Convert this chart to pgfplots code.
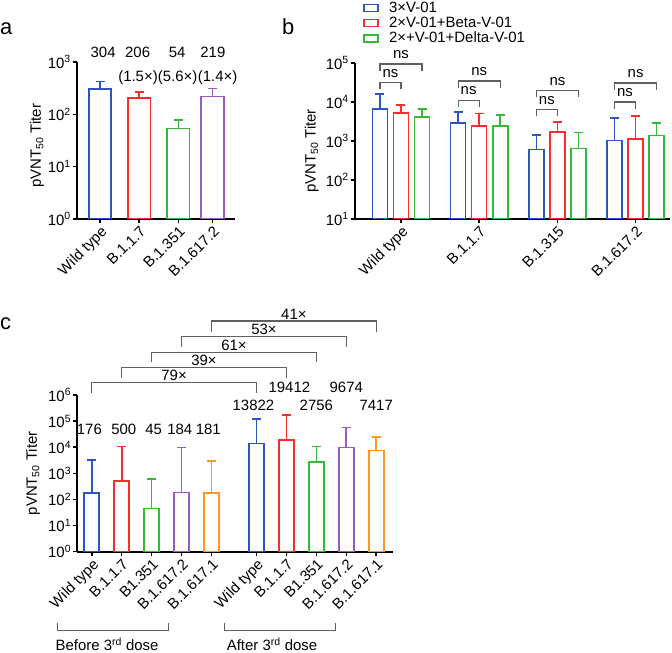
\documentclass[border=0pt]{standalone}
\usepackage{pgfplots}
\pgfplotsset{compat=1.18}
\usepackage{fontspec}
\setmainfont{Liberation Sans}
\definecolor{cB}{RGB}{45,85,190}
\definecolor{cR}{RGB}{250,45,45}
\definecolor{cG}{RGB}{55,185,55}
\definecolor{cP}{RGB}{155,90,190}
\definecolor{cO}{RGB}{255,150,35}
\definecolor{brkc}{RGB}{95,95,95}
\newcommand{\fs}{\fontsize{15}{17}\selectfont}
\newcommand{\sps}[1]{\textsuperscript{#1}}
\newcommand{\bk}[4]{\draw[brkc, line width=1.1bp] (axis cs:#1,#3) |- (axis cs:#2,#4) -- (axis cs:#2,#3);}
\pgfplotsset{
  every axis/.append style={
    scale only axis,
    axis x line*=bottom, axis y line*=left,
    axis line style={line width=1.8bp},
    tick align=outside, tick pos=left,
    major tick length=4.5bp,
    every tick/.style={black, line width=1.5bp},
    tick label style={font=\fs},
    label style={font=\fs},
    xticklabel style={rotate=45, anchor=north east, inner sep=1bp},
    yticklabel style={inner sep=1.5bp},
  },
  bx/.style={ybar, bar shift=0, draw=#1, fill=white, line width=1.6bp,
    error bars/y dir=plus, error bars/y explicit,
    error bars/error bar style={draw=#1, line width=1.6bp},
    error bars/error mark options={rotate=90, mark size=4.5bp, line width=1.6bp, draw=#1}},
}
\begin{document}
\fs
\begin{tikzpicture}
\useasboundingbox (0bp,0bp) rectangle (672bp,653bp);
\node[font=\fontsize{22}{24}\selectfont, anchor=base west, inner sep=0pt] at (0bp,618bp) {a};
\node[font=\fontsize{22}{24}\selectfont, anchor=base west, inner sep=0pt] at (282bp,618bp) {b};
\node[font=\fontsize{22}{24}\selectfont, anchor=base west, inner sep=0pt] at (0bp,323bp) {c};

% ---------------- panel a
\begin{axis}[anchor=south west, at={(77bp,434bp)}, width=158bp, height=157bp,
  ymode=log, log origin=infty, yminorticks=false, clip mode=individual,
  xmin=-0.587, xmax=3.444, ymin=1, ymax=1000,
  ytick={1,10,100,1000}, yticklabels={10\sps{0},10\sps{1},10\sps{2},10\sps{3}},
  xtick={0,1,2,2.87}, xticklabels={Wild type,B.1.1.7,B.1.351,B.1.617.2},
  ylabel={pVNT\textsubscript{50} Titer},
  ylabel style={at={(axis description cs:-0.253,0.467)}, anchor=center}]
\addplot[bx=cB, bar width=0.574] coordinates {(0,304) +- (0,118)};
\addplot[bx=cR, bar width=0.574] coordinates {(1,206) +- (0,58)};
\addplot[bx=cG, bar width=0.574] coordinates {(2,54) +- (0,24)};
\addplot[bx=cP, bar width=0.574] coordinates {(2.87,219) +- (0,91)};
\node at (axis cs:0.08,1513) {304};
\node at (axis cs:0.96,1513) {206};
\node at (axis cs:1.97,1513) {54};
\node at (axis cs:2.88,1513) {219};
\node at (axis cs:0.97,512) {(1.5×)};
\node at (axis cs:1.98,512) {(5.6×)};
\node at (axis cs:3.0,512) {(1.4×)};
\end{axis}

% ---------------- panel b
\begin{axis}[anchor=south west, at={(355bp,434bp)}, width=315bp, height=156bp,
  ymode=log, log origin=infty, yminorticks=false, clip mode=individual,
  xmin=-0.588, xmax=3.44, ymin=10, ymax=100000,
  ytick={10,100,1000,10000,100000},
  yticklabels={10\sps{1},10\sps{2},10\sps{3},10\sps{4},10\sps{5}},
  xtick={0,1,2,3}, xticklabels={Wild type,B.1.1.7,B.1.315,B.1.617.2},
  ylabel={pVNT\textsubscript{50} Titer},
  ylabel style={at={(axis description cs:-0.137,0.436)}, anchor=center},
  legend style={at={(0.025,1.404)}, anchor=north west, draw=none, fill=none,
    font=\fs, row sep=-0.5bp, inner sep=0pt, nodes={inner sep=1.5bp}},
  legend cell align=left,
  legend image code/.code={\draw[#1, line width=1.6bp, fill=white] (0bp,-3.5bp) rectangle (14bp,3.5bp); \path (23bp,0bp);}]
\addplot[bx=cB, bar width=0.192] coordinates {
 (-0.269,6700) +- (0,9300) (0.731,2870) +- (0,2750) (1.731,605) +- (0,835) (2.731,1030) +- (0,2910)};
\addlegendentry{3×V-01}
\addplot[bx=cR, bar width=0.192] coordinates {
 (0,5300) +- (0,3200) (1,2400) +- (0,2690) (2,1690) +- (0,1360) (3,1110) +- (0,3240)};
\addlegendentry{2×V-01+Beta-V-01}
\addplot[bx=cG, bar width=0.192] coordinates {
 (0.269,4180) +- (0,2520) (1.269,2450) +- (0,2160) (2.269,642) +- (0,1008) (3.269,1380) +- (0,1550)};
\addlegendentry{2×+V-01+Delta-V-01}
\bk{-0.269}{0.269}{63500}{94200}
\node at (axis cs:0,160000) {ns};
\bk{-0.269}{0}{21500}{31300}
\node at (axis cs:-0.135,52200) {ns};
\bk{0.731}{1.269}{23300}{34500}
\node at (axis cs:1,58700) {ns};
\bk{0.731}{1}{7570}{11200}
\node at (axis cs:0.865,19100) {ns};
\bk{1.731}{2.269}{13200}{19500}
\node at (axis cs:2,32600) {ns};
\bk{1.731}{2}{4380}{6500}
\node at (axis cs:1.865,11200) {ns};
\bk{2.731}{3.269}{20700}{30700}
\node at (axis cs:3,52200) {ns};
\bk{2.731}{3}{6730}{10000}
\node at (axis cs:2.865,17000) {ns};
\end{axis}

% ---------------- panel c
\begin{axis}[anchor=south west, at={(77.3bp,101.3bp)}, width=316bp, height=156.7bp,
  ymode=log, log origin=infty, yminorticks=false, clip mode=individual,
  xmin=-0.483, xmax=10.07, ymin=1, ymax=1000000,
  ytick={1,10,100,1000,10000,100000,1000000},
  yticklabels={10\sps{0},10\sps{1},10\sps{2},10\sps{3},10\sps{4},10\sps{5},10\sps{6}},
  xtick={0,1,2,3,4,5.5,6.5,7.5,8.5,9.5},
  xticklabels={Wild type,B.1.1.7,B1.351,B.1.617.2,B.1.617.1,Wild type,B.1.1.7,B1.351,B.1.617.2,B.1.617.1},
  ylabel={pVNT\textsubscript{50} Titer},
  ylabel style={at={(axis description cs:-0.14,0.50)}, anchor=center}]
\addplot[bx=cB, bar width=0.5] coordinates {(0,176) +- (0,3064) (5.5,13822) +- (0,106000)};
\addplot[bx=cR, bar width=0.5] coordinates {(1,500) +- (0,10000) (6.5,19412) +- (0,156600)};
\addplot[bx=cG, bar width=0.5] coordinates {(2,45) +- (0,562) (7.5,2756) +- (0,7744)};
\addplot[bx=cP, bar width=0.5] coordinates {(3,184) +- (0,9746) (8.5,9674) +- (0,48200)};
\addplot[bx=cO, bar width=0.5] coordinates {(4,181) +- (0,2789) (9.5,7417) +- (0,17200)};
\node at (axis cs:-0.08,49900) {176};
\node at (axis cs:1.07,49900) {500};
\node at (axis cs:2.07,49900) {45};
\node at (axis cs:2.94,49900) {184};
\node at (axis cs:3.89,49900) {181};
\node at (axis cs:5.4,413000) {13822};
\node at (axis cs:6.6,1900000) {19412};
\node at (axis cs:7.5,413000) {2756};
\node at (axis cs:8.5,1900000) {9674};
\node at (axis cs:9.5,413000) {7417};
\bk{0}{5.5}{1160000}{2950000}
\node[anchor=south, inner sep=1.5bp] at (axis cs:2.75,2950000) {79×};
\bk{1}{6.5}{4350000}{11070000}
\node[anchor=south, inner sep=1.5bp] at (axis cs:3.75,11070000) {39×};
\bk{2}{7.5}{18800000}{43000000}
\node[anchor=south, inner sep=1.5bp] at (axis cs:4.75,43000000) {61×};
\bk{3}{8.5}{66900000}{170000000}
\node[anchor=south, inner sep=1.5bp] at (axis cs:5.75,170000000) {53×};
\bk{4}{9.5}{265000000}{680000000}
\node[anchor=south, inner sep=1.5bp] at (axis cs:6.75,680000000) {41×};
\draw[brkc, line width=1.1bp] (axis cs:-1.15,0.00191) |- (axis cs:2.55,0.000946) -- (axis cs:2.55,0.00191);
\draw[brkc, line width=1.1bp] (axis cs:4.44,0.00191) |- (axis cs:8.14,0.000946) -- (axis cs:8.14,0.00191);
\node at (axis cs:0.51,0.000277) {Before 3\sps{rd} dose};
\node at (axis cs:6.02,0.000277) {After 3\sps{rd} dose};
\end{axis}
\end{tikzpicture}
\end{document}
